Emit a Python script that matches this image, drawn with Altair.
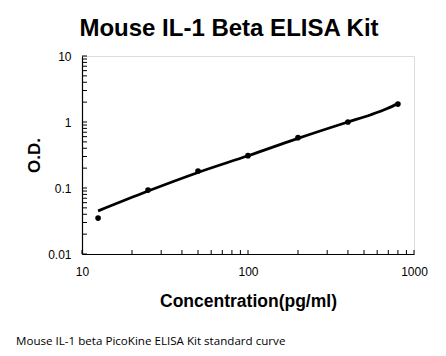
import altair as alt
import pandas as pd

# Standard points
conc = [12.5, 25, 50, 100, 200, 400, 800]
od = [0.035, 0.093, 0.181, 0.309, 0.579, 1.0, 1.87]

# Fitted curve
curve_conc = [12.5, 25, 50, 100, 200, 400, 550, 690, 800]
curve_od = [0.045, 0.090, 0.172, 0.308, 0.565, 1.0, 1.29, 1.6, 1.9]

# Axis tick values (log minor ticks)
x_ticks = [10, 20, 30, 40, 50, 60, 70, 80, 90, 100, 200, 300, 400, 500, 600, 700, 800, 900, 1000]
y_ticks = [0.01, 0.02, 0.03, 0.04, 0.05, 0.06, 0.07, 0.08, 0.09,
           0.1, 0.2, 0.3, 0.4, 0.5, 0.6, 0.7, 0.8, 0.9,
           1, 2, 3, 4, 5, 6, 7, 8, 9, 10]
x_labels = [10, 100, 1000]
y_labels = [0.01, 0.1, 1, 10]

title = "Mouse IL-1 Beta ELISA Kit"
x_title = "Concentration(pg/ml)"
y_title = "O.D."
caption = "Mouse IL-1 beta PicoKine ELISA Kit standard curve"

W, H = 332, 198
FONT = "Liberation Sans"

pts = pd.DataFrame({"conc": conc, "od": od})
curve = pd.DataFrame({"conc": curve_conc, "od": curve_od})
xt = pd.DataFrame({"conc": x_ticks})
yt = pd.DataFrame({"od": y_ticks})

xscale = alt.Scale(type="log", domain=[10, 1000], nice=False)
yscale = alt.Scale(type="log", domain=[0.01, 10], nice=False)

xaxis = alt.Axis(values=x_labels, format="~g", title=x_title, ticks=False, tickSize=0,
                 grid=False, labelPadding=12, titlePadding=15, labelFontSize=12,
                 labelFont=FONT, titleFont=FONT, titleFontSize=17.5, titleFontWeight="bold",
                 labelColor="#000", titleColor="#000", domainColor="#000", domainWidth=1.2,
                 labelFlush=False)
yaxis = alt.Axis(values=y_labels, format="~g", title=y_title, ticks=False, tickSize=0,
                 grid=False, labelPadding=11, titlePadding=4, labelFontSize=12,
                 labelFont=FONT, titleFont=FONT, titleFontSize=17, titleFontWeight="bold",
                 labelColor="#000", titleColor="#000", domainColor="#000", domainWidth=1.2,
                 labelFlush=False)

X = alt.X("conc:Q", scale=xscale, axis=xaxis)
Y = alt.Y("od:Q", scale=yscale, axis=yaxis)

line = alt.Chart(curve).mark_line(color="black", strokeWidth=2.8, interpolate="monotone").encode(
    x=X, y=Y,
)
points = alt.Chart(pts).mark_point(filled=True, color="black", size=32, opacity=1).encode(
    x=X, y=Y,
)
ytick_layer = alt.Chart(yt).mark_rule(color="black", strokeWidth=1).encode(
    y=Y,
    x=alt.value(0),
    x2=alt.value(5),
)
xtick_layer = alt.Chart(xt).mark_rule(color="black", strokeWidth=1).encode(
    x=X,
    y=alt.value(H),
    y2=alt.value(H - 4),
)
cap = alt.Chart(pd.DataFrame({"t": [caption]})).mark_text(
    align="left", baseline="middle", font="Open Sans", fontSize=11.6, color="#000"
).encode(text="t:N", x=alt.value(-66), y=alt.value(286))

chart = alt.layer(line, points, ytick_layer, xtick_layer, cap).properties(
    width=W, height=H,
    title=alt.TitleParams(title, font=FONT, fontSize=24, fontWeight="bold", color="#000",
                          anchor="middle", frame="group", dx=-19, offset=9),
    autosize=alt.AutoSizeParams(type="none"),
    padding={"left": 74, "top": 48, "right": 24, "bottom": 94},
).configure_view(stroke=None).configure(background="white")

chart.save("out.html", embed_options={"renderer": "svg", "actions": False})
